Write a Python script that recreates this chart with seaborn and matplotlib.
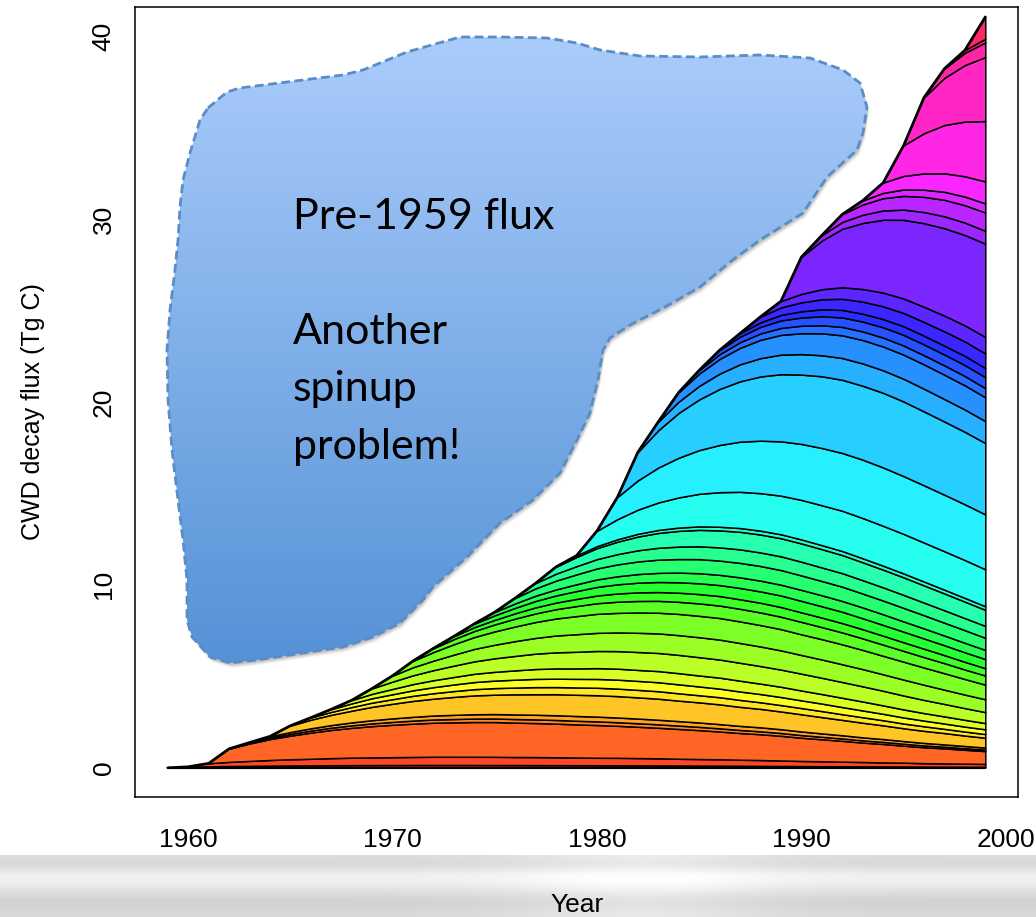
import colorsys
import numpy as np
import pandas as pd
import matplotlib
matplotlib.use("Agg")
import matplotlib.pyplot as plt
import seaborn as sns
from matplotlib.patches import Polygon
from matplotlib.colors import LinearSegmentedColormap

# ---------------- data ----------------
years = list(range(1959, 2000))
cohort_years = list(range(1960, 2000))

c1960 = [0.057, 0.075, 0.090, 0.102, 0.113, 0.122, 0.129, 0.135, 0.140, 0.144, 0.147, 0.149, 0.150, 0.150,
         0.149, 0.147, 0.146, 0.143, 0.141, 0.138, 0.135, 0.132, 0.129, 0.125, 0.120, 0.116, 0.111, 0.107,
         0.101, 0.095, 0.090, 0.084, 0.080, 0.074, 0.069, 0.065, 0.060, 0.056, 0.052, 0.048]
c1961 = [0.17, 0.23, 0.27, 0.31, 0.34, 0.36, 0.39, 0.41, 0.42, 0.43, 0.44, 0.45, 0.45, 0.45, 0.45, 0.44,
         0.44, 0.43, 0.42, 0.41, 0.41, 0.40, 0.39, 0.37, 0.36, 0.35, 0.33, 0.32, 0.30, 0.28, 0.27, 0.25,
         0.24, 0.22, 0.21, 0.19, 0.18, 0.17, 0.16]
c1962 = [0.72, 0.95, 1.14, 1.29, 1.43, 1.54, 1.63, 1.71, 1.77, 1.82, 1.86, 1.88, 1.90, 1.90, 1.88, 1.86,
         1.84, 1.81, 1.79, 1.75, 1.71, 1.67, 1.63, 1.58, 1.52, 1.46, 1.41, 1.35, 1.27, 1.20, 1.14, 1.06,
         1.01, 0.93, 0.87, 0.82, 0.76, 0.70]
c1963 = [0.060, 0.080, 0.096, 0.110, 0.124, 0.136, 0.148, 0.158, 0.168, 0.176, 0.182, 0.188, 0.192, 0.196,
         0.198, 0.200, 0.200, 0.198, 0.196, 0.192, 0.188, 0.184, 0.178, 0.172, 0.166, 0.160, 0.152, 0.144,
         0.136, 0.128, 0.120, 0.112, 0.106, 0.098, 0.092, 0.086, 0.080]
c1964 = [0.078, 0.104, 0.125, 0.143, 0.161, 0.177, 0.192, 0.205, 0.218, 0.229, 0.237, 0.244, 0.250, 0.255,
         0.257, 0.260, 0.260, 0.257, 0.255, 0.250, 0.244, 0.239, 0.231, 0.224, 0.216, 0.208, 0.198, 0.187,
         0.177, 0.166, 0.156, 0.146, 0.138, 0.127, 0.120, 0.112]
c1965 = [0.35, 0.47, 0.56, 0.64, 0.73, 0.80, 0.87, 0.92, 0.98, 1.03, 1.06, 1.10, 1.12, 1.15, 1.16, 1.17,
         1.17, 1.16, 1.15, 1.12, 1.10, 1.08, 1.04, 1.01, 0.97, 0.94, 0.89, 0.84, 0.80, 0.75, 0.70, 0.66,
         0.62, 0.57, 0.54]
c1966 = [0.12, 0.16, 0.20, 0.23, 0.25, 0.28, 0.30, 0.32, 0.34, 0.36, 0.37, 0.39, 0.39, 0.40, 0.41, 0.41,
         0.41, 0.41, 0.40, 0.39, 0.39, 0.38, 0.36, 0.35, 0.34, 0.33, 0.31, 0.30, 0.28, 0.26, 0.25, 0.23,
         0.22, 0.20]
c1967 = [0.15, 0.20, 0.24, 0.27, 0.30, 0.33, 0.36, 0.39, 0.41, 0.43, 0.45, 0.46, 0.47, 0.48, 0.49, 0.49,
         0.49, 0.49, 0.48, 0.47, 0.46, 0.45, 0.44, 0.42, 0.41, 0.39, 0.37, 0.35, 0.33, 0.31, 0.29, 0.27,
         0.26]
c1968 = [0.18, 0.24, 0.29, 0.34, 0.38, 0.41, 0.45, 0.48, 0.51, 0.54, 0.56, 0.57, 0.59, 0.60, 0.60, 0.61,
         0.61, 0.60, 0.60, 0.59, 0.57, 0.56, 0.54, 0.52, 0.51, 0.49, 0.46, 0.44, 0.41, 0.39, 0.37, 0.34]
c1969 = [0.30, 0.40, 0.48, 0.55, 0.62, 0.68, 0.74, 0.79, 0.84, 0.88, 0.91, 0.94, 0.96, 0.98, 0.99, 1.00,
         1.00, 0.99, 0.98, 0.96, 0.94, 0.92, 0.89, 0.86, 0.83, 0.80, 0.76, 0.72, 0.68, 0.64, 0.60]
c1970 = [0.33, 0.44, 0.52, 0.60, 0.68, 0.74, 0.81, 0.86, 0.92, 0.96, 0.99, 1.02, 1.05, 1.07, 1.08, 1.09,
         1.09, 1.08, 1.07, 1.05, 1.02, 1.00, 0.97, 0.94, 0.90, 0.87, 0.83, 0.78, 0.74, 0.70]
c1971 = [0.35, 0.47, 0.57, 0.65, 0.73, 0.80, 0.87, 0.93, 0.99, 1.04, 1.07, 1.11, 1.13, 1.16, 1.17, 1.18,
         1.18, 1.17, 1.16, 1.13, 1.11, 1.09, 1.05, 1.01, 0.98, 0.94, 0.90, 0.85, 0.80]
c1972 = [0.21, 0.28, 0.33, 0.38, 0.43, 0.47, 0.51, 0.55, 0.58, 0.61, 0.63, 0.65, 0.66, 0.68, 0.68, 0.69,
         0.69, 0.68, 0.68, 0.66, 0.65, 0.63, 0.61, 0.59, 0.57, 0.55, 0.52, 0.50]
c1973 = [0.16, 0.21, 0.25, 0.29, 0.33, 0.36, 0.39, 0.42, 0.45, 0.47, 0.48, 0.50, 0.51, 0.52, 0.52, 0.53,
         0.53, 0.52, 0.52, 0.51, 0.50, 0.49, 0.47, 0.46, 0.44, 0.42, 0.40]
c1974 = [0.19, 0.25, 0.30, 0.35, 0.39, 0.43, 0.47, 0.50, 0.53, 0.55, 0.57, 0.59, 0.60, 0.62, 0.62, 0.63,
         0.63, 0.62, 0.62, 0.60, 0.59, 0.58, 0.56, 0.54, 0.52, 0.50]
c1975 = [0.18, 0.24, 0.29, 0.33, 0.37, 0.41, 0.44, 0.47, 0.50, 0.53, 0.55, 0.56, 0.58, 0.59, 0.59, 0.60,
         0.60, 0.59, 0.59, 0.58, 0.56, 0.55, 0.53, 0.52, 0.50]
c1976 = [0.30, 0.40, 0.48, 0.54, 0.60, 0.65, 0.69, 0.72, 0.74, 0.77, 0.78, 0.79, 0.80, 0.80, 0.79, 0.78,
         0.78, 0.76, 0.75, 0.74, 0.72, 0.70, 0.69, 0.66]
c1977 = [0.29, 0.38, 0.45, 0.51, 0.56, 0.61, 0.65, 0.68, 0.70, 0.72, 0.74, 0.74, 0.75, 0.75, 0.74, 0.74,
         0.73, 0.72, 0.71, 0.69, 0.68, 0.66, 0.65]
c1978 = [0.38, 0.50, 0.60, 0.68, 0.75, 0.81, 0.86, 0.90, 0.93, 0.96, 0.98, 0.99, 1.00, 1.00, 0.99, 0.98,
         0.97, 0.96, 0.94, 0.92, 0.90, 0.88]
c1979 = [0.084, 0.110, 0.132, 0.150, 0.165, 0.178, 0.189, 0.198, 0.205, 0.211, 0.216, 0.218, 0.220, 0.220,
         0.218, 0.216, 0.213, 0.210, 0.207, 0.202, 0.198]
c1980 = [0.84, 1.10, 1.32, 1.50, 1.65, 1.78, 1.89, 1.98, 2.05, 2.11, 2.16, 2.18, 2.20, 2.20, 2.18, 2.16,
         2.13, 2.10, 2.07, 2.02]
c1981 = [1.21, 1.60, 1.91, 2.17, 2.39, 2.58, 2.74, 2.87, 2.97, 3.06, 3.13, 3.16, 3.19, 3.19, 3.16, 3.13,
         3.09, 3.05, 3.00]
c1982 = [1.55, 2.04, 2.45, 2.77, 3.06, 3.30, 3.51, 3.67, 3.79, 3.92, 4.00, 4.04, 4.08, 4.08, 4.04, 4.00,
         3.96, 3.90]
c1983 = [0.47, 0.62, 0.74, 0.84, 0.93, 1.00, 1.07, 1.12, 1.15, 1.19, 1.22, 1.23, 1.24, 1.24, 1.23, 1.22, 1.20]
c1984 = [0.51, 0.67, 0.80, 0.90, 1.00, 1.08, 1.14, 1.20, 1.24, 1.28, 1.30, 1.32, 1.33, 1.33, 1.32, 1.30]
c1985 = [0.19, 0.26, 0.31, 0.35, 0.38, 0.41, 0.44, 0.46, 0.47, 0.49, 0.50, 0.50, 0.51, 0.51, 0.50]
c1986 = [0.23, 0.30, 0.36, 0.41, 0.45, 0.49, 0.52, 0.54, 0.56, 0.58, 0.59, 0.59, 0.60, 0.60]
c1987 = [0.19, 0.25, 0.30, 0.34, 0.38, 0.41, 0.43, 0.45, 0.47, 0.48, 0.49, 0.50, 0.50]
c1988 = [0.31, 0.41, 0.49, 0.55, 0.61, 0.66, 0.70, 0.73, 0.75, 0.78, 0.79, 0.80]
c1989 = [0.35, 0.46, 0.55, 0.63, 0.69, 0.75, 0.79, 0.83, 0.86, 0.88, 0.90]
c1990 = [2.02, 2.66, 3.19, 3.61, 3.98, 4.30, 4.57, 4.78, 4.94, 5.10]
c1991 = [0.29, 0.38, 0.45, 0.51, 0.56, 0.61, 0.65, 0.68, 0.70]
c1992 = [0.42, 0.56, 0.67, 0.75, 0.83, 0.90, 0.95, 1.00]
c1993 = [0.22, 0.29, 0.35, 0.39, 0.44, 0.47, 0.50]
c1994 = [0.56, 0.74, 0.89, 1.01, 1.11, 1.20]
c1995 = [1.67, 2.20, 2.64, 2.99, 3.30]
c1996 = [1.96, 2.58, 3.09, 3.50]
c1997 = [0.51, 0.67, 0.80]
c1998 = [0.15, 0.20]
c1999 = [1.20]

cohort_values = [c1960, c1961, c1962, c1963, c1964, c1965, c1966, c1967, c1968, c1969,
                 c1970, c1971, c1972, c1973, c1974, c1975, c1976, c1977, c1978, c1979,
                 c1980, c1981, c1982, c1983, c1984, c1985, c1986, c1987, c1988, c1989,
                 c1990, c1991, c1992, c1993, c1994, c1995, c1996, c1997, c1998, c1999]

x_ticks = [1960, 1970, 1980, 1990, 2000]
y_ticks = [0, 10, 20, 30, 40]
x_label = "Year"
y_label = "CWD decay flux (Tg C)"
note_lines = ["Pre-1959 flux", "Another", "spinup", "problem!"]

# annotation blob outline (figure pixel coordinates)
blob_x = [208, 227, 240, 287, 343, 363, 407, 460, 500, 547, 577, 600, 640, 700, 760, 810, 843, 860,
          867, 863, 857, 827, 803, 760, 730, 700, 665, 630, 610, 603, 598, 593, 590, 577, 560, 533,
          500, 467, 433, 423, 400, 373, 343, 323, 290, 257, 230, 210, 192, 187, 187, 183, 178, 172,
          168, 167, 170, 175, 178, 180, 183, 190, 200]
blob_y = [108, 92, 88, 82, 75, 70, 52, 37, 37, 38, 43, 50, 56, 57, 55, 58, 70, 83,
          107, 133, 150, 177, 213, 240, 262, 287, 307, 325, 338, 350, 380, 400, 413, 440, 473, 500,
          523, 557, 587, 600, 623, 637, 647, 650, 655, 660, 663, 657, 637, 620, 580, 540, 500, 450,
          400, 350, 310, 270, 240, 207, 180, 153, 120]

# ---------------- build table ----------------
table = pd.DataFrame(0.0, index=years, columns=cohort_years)
for cy, vals in zip(cohort_years, cohort_values):
    n = years[-1] - cy + 1
    v = list(vals)[:n]
    v = v + [v[-1]] * (n - len(v))
    table.loc[cy:years[-1], cy] = v
cum = table.cumsum(axis=1)
total = cum.iloc[:, -1].to_numpy()

ncol = len(cohort_years) + 1
colors = [colorsys.hsv_to_rgb(i / ncol, 0.85, 1.0) for i in range(len(cohort_years))]

# ---------------- figure ----------------
sns.set_style("white")
plt.rcParams["font.family"] = ["Liberation Sans", "DejaVu Sans"]
for key in ["text.color", "axes.labelcolor", "xtick.color", "ytick.color", "axes.edgecolor"]:
    plt.rcParams[key] = "black"

W, H = 1036, 917
fig = plt.figure(figsize=(W / 100, H / 100), dpi=100, facecolor="white")

# slide background strip at the bottom
bg = fig.add_axes([0, 0, 1, 62 / H], zorder=0)
rows = np.array([0.86, 0.84, 0.90, 0.95, 0.93, 0.89, 0.85, 0.82, 0.83, 0.85])
cols = 1.0 + 0.07 * np.exp(-((np.linspace(0, 1, 200) - 0.62) / 0.12) ** 2)
img = np.clip(np.outer(rows, cols), 0, 1)
bg.imshow(img, cmap="gray", vmin=0, vmax=1, aspect="auto", extent=(0, 1, 0, 1),
          interpolation="bicubic")
bg.set_axis_off()

ax = fig.add_axes([135 / W, 1 - 797 / H, (1018 - 135) / W, (797 - 6.7) / H], zorder=1)
yrs = np.array(years)
for i, cy in enumerate(cohort_years):
    mask = yrs >= cy - 1
    upper = cum.iloc[:, i].to_numpy()[mask]
    lower = cum.iloc[:, i - 1].to_numpy()[mask] if i > 0 else np.zeros(mask.sum())
    ax.fill_between(yrs[mask], lower, upper, facecolor=colors[i], edgecolor="black",
                    linewidth=1.1, zorder=2 + i * 0.01)
sns.lineplot(x=yrs, y=total, ax=ax, color="black", linewidth=1.8, estimator=None,
             sort=False, legend=False, zorder=5)
ax.plot([years[0], years[-1]], [0, 0], color="black", lw=1.6, zorder=5)

ax.set_xlim(1957.4, 2000.6)
ax.set_ylim(-1.6, 41.6)
ax.set_xticks(x_ticks)
ax.set_xticklabels([str(t) for t in x_ticks], fontsize=19)
ax.set_yticks(y_ticks)
ax.set_yticklabels([str(t) for t in y_ticks], fontsize=19, rotation=90, va="center")
ax.tick_params(axis="both", direction="out", length=10, width=1.0, color="black",
               labelcolor="black")
ax.tick_params(axis="x", pad=12)
ax.tick_params(axis="y", pad=4)
for s in ax.spines.values():
    s.set_color("black")
    s.set_linewidth(1.1)
ax.set_xlabel("")
ax.set_ylabel("")

fig.text(577 / W, 1 - 905 / H, x_label, fontsize=19, ha="center", va="center", color="black")
fig.text(33 / W, 1 - 412 / H, y_label, fontsize=18, ha="center", va="center", rotation=90,
         color="black")

# ---------------- annotation blob ----------------
ov = fig.add_axes([0, 0, 1, 1], zorder=3)
ov.set_xlim(0, W)
ov.set_ylim(H, 0)
ov.set_axis_off()
ov.patch.set_visible(False)

bx = np.array(blob_x + blob_x[:1], dtype=float)
by = np.array(blob_y + blob_y[:1], dtype=float)
for off, a in [(5, 0.06), (4, 0.08), (3, 0.10), (2, 0.12)]:
    ov.add_patch(Polygon(np.column_stack([bx + off * 0.5, by + off]), closed=True,
                         facecolor="#404040", edgecolor="none", alpha=a, zorder=1))
clip = Polygon(np.column_stack([bx, by]), closed=True, facecolor="none", edgecolor="none")
ov.add_patch(clip)
grad = np.linspace(0, 1, 256).reshape(-1, 1)
cmap = LinearSegmentedColormap.from_list("blob", ["#AACCFB", "#5592D6"])
im = ov.imshow(grad, cmap=cmap, aspect="auto", zorder=2,
               extent=(bx.min(), bx.max(), by.max(), by.min()))
im.set_clip_path(clip)
ov.plot(bx, by, color="#5A8CC6", lw=2.0, dashes=(3.2, 1.6), zorder=3, solid_capstyle="butt")

note_font = ["Lato", "Open Sans", "DejaVu Sans"]
ov.text(293, 229, note_lines[0], fontsize=31, family=note_font, va="baseline", ha="left",
        color="black", zorder=4)
for k, line in enumerate(note_lines[1:]):
    ov.text(293, 344 + 57.5 * k, line, fontsize=31, family=note_font, va="baseline",
            ha="left", color="black", zorder=4)

fig.savefig("out.png", dpi=100, facecolor="white")
